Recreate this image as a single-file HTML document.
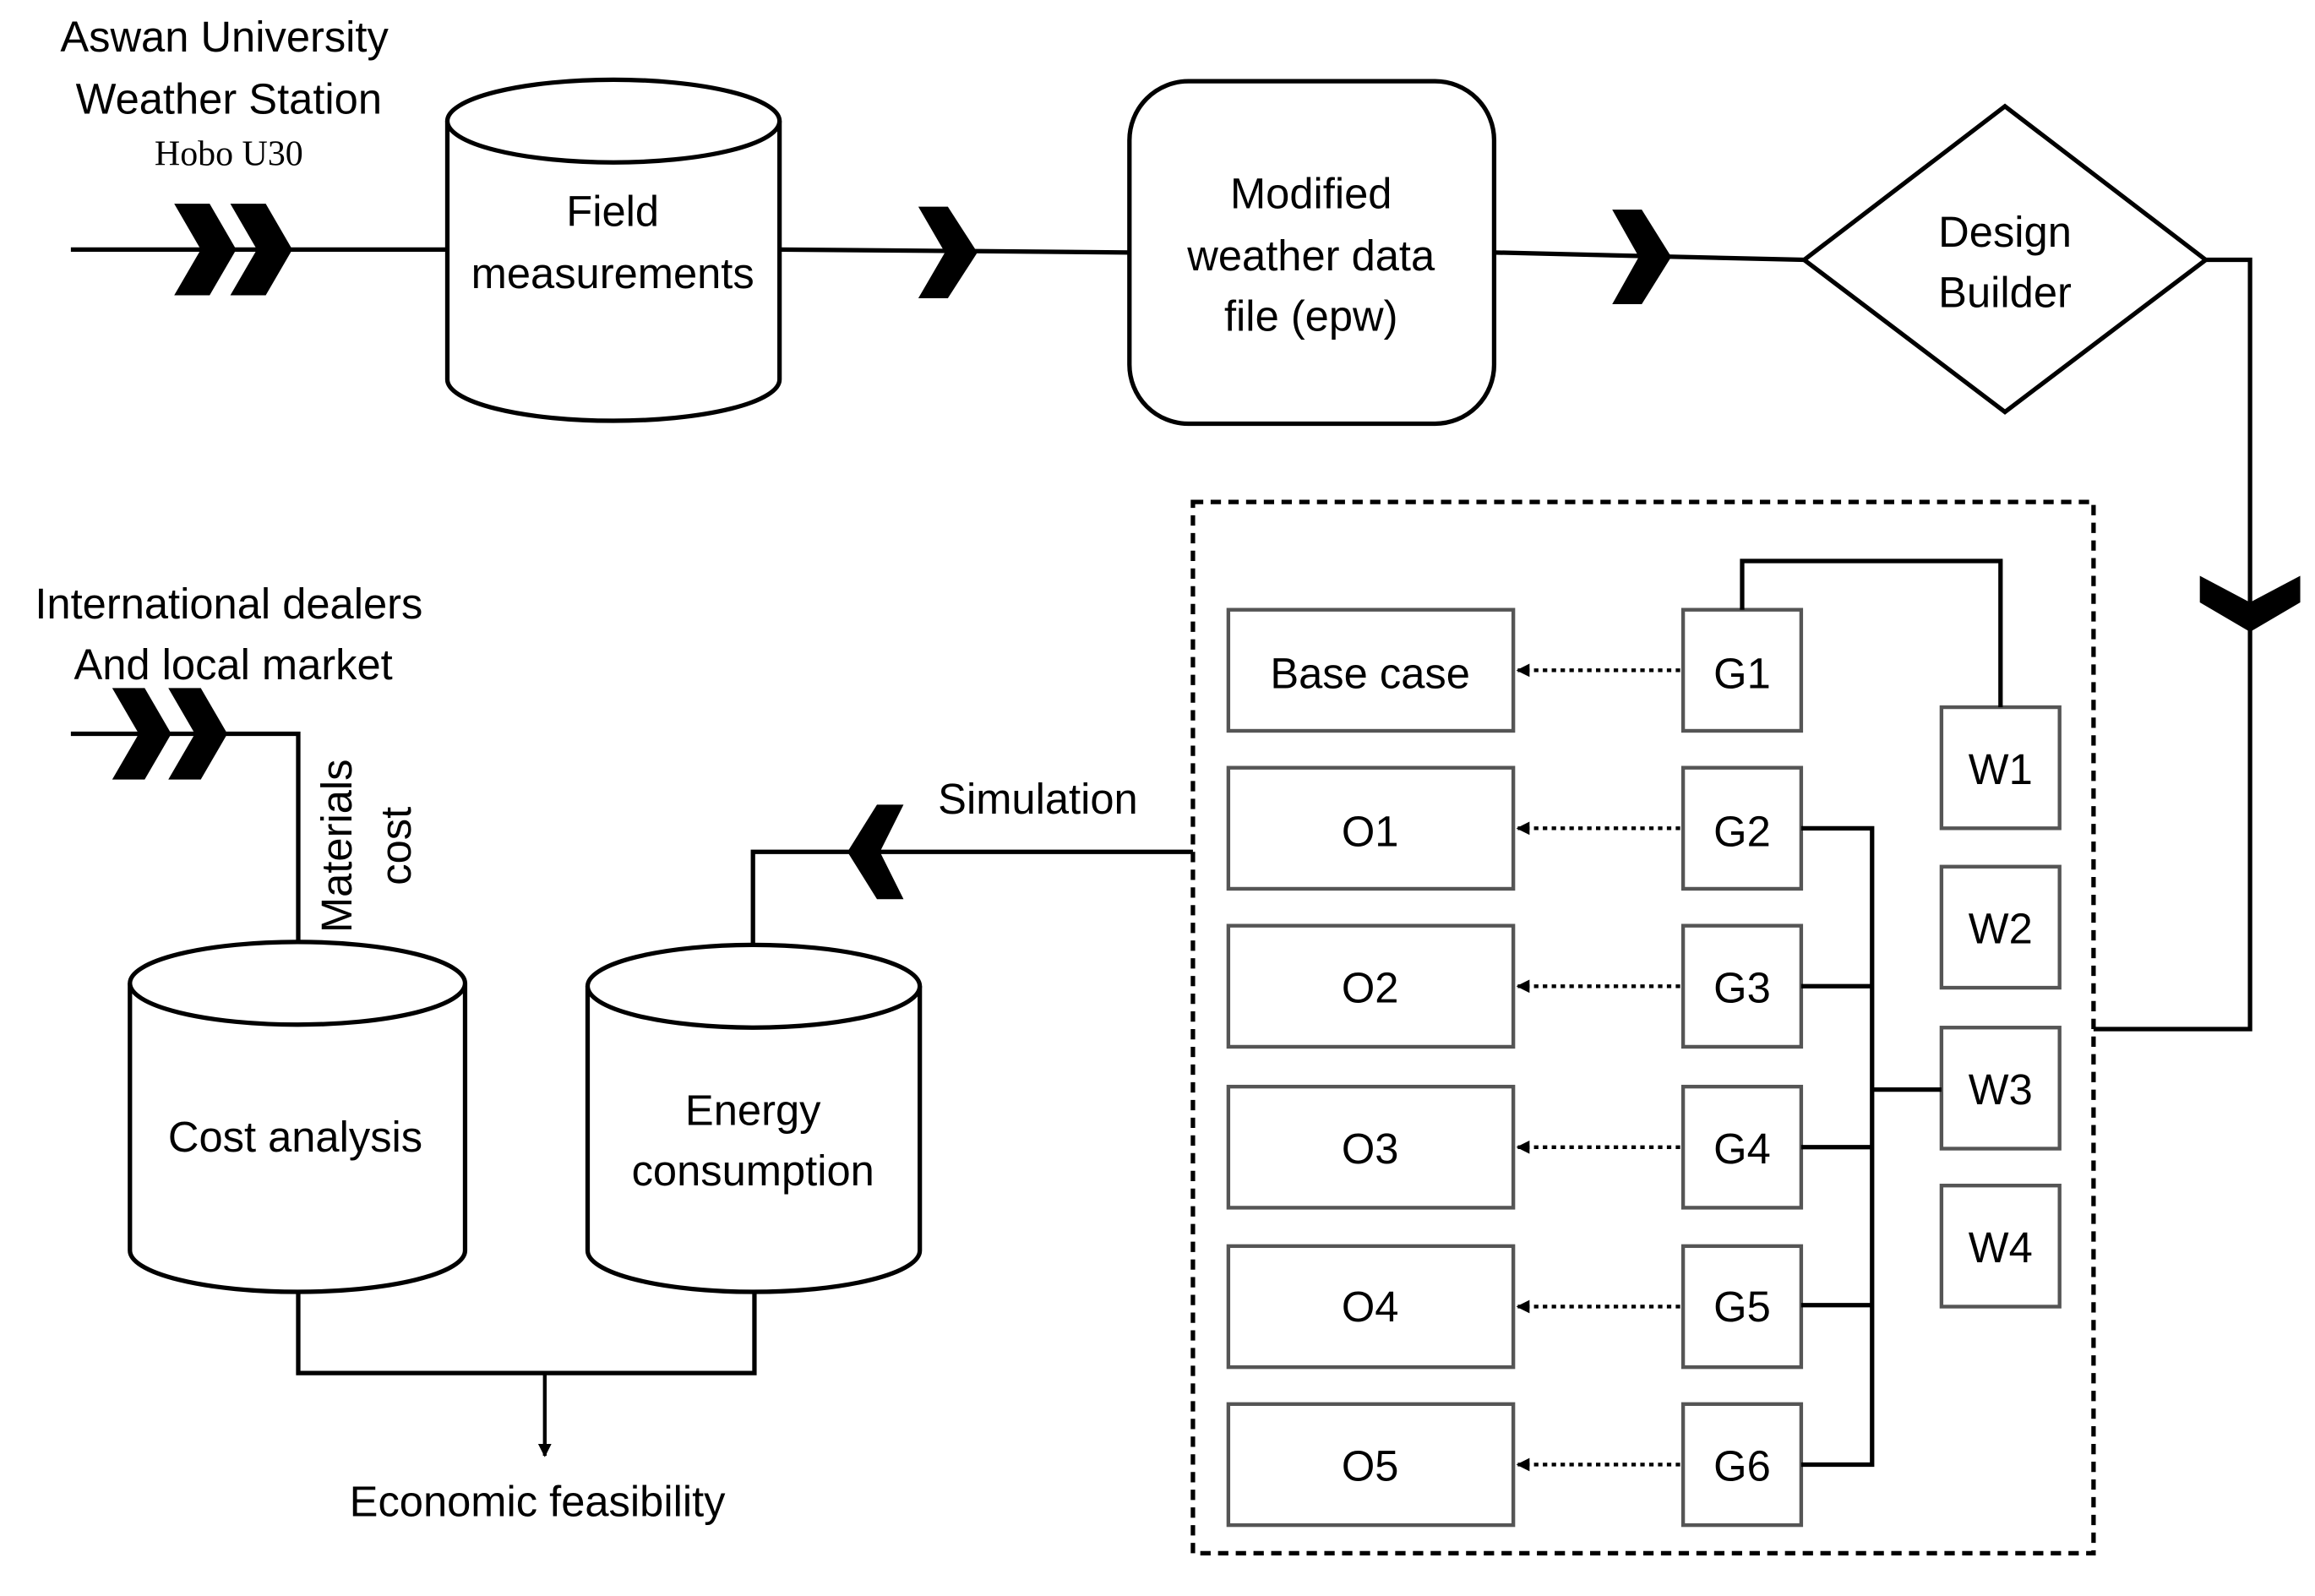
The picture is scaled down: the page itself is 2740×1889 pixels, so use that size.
<!DOCTYPE html>
<html><head><meta charset="utf-8"><style>html,body{margin:0;padding:0;background:#fff}svg{display:block}</style></head>
<body>
<svg width="2740" height="1889" viewBox="0 0 1568 1081" xmlns="http://www.w3.org/2000/svg" font-family="Liberation Sans, sans-serif" font-size="29" fill="none" stroke="#000" stroke-width="3">
<defs>
<marker id="ah" markerWidth="9" markerHeight="9" refX="8" refY="4.5" orient="auto" markerUnits="userSpaceOnUse"><path d="M0,0 L9,4.5 L0,9 z" fill="#000" stroke="none"/></marker>
</defs>
<rect x="0" y="0" width="1568" height="1081" fill="#fff" stroke="none"/>
<!-- lines top -->
<line x1="48" y1="169" x2="303" y2="169"/>
<line x1="528" y1="169" x2="765" y2="171"/>
<line x1="1012" y1="171" x2="1222" y2="176"/>
<polyline points="1494,176 1524,176 1524,697 1418,697"/>
<!-- chevrons -->
<g fill="#000" stroke="none">
<path d="M118,138 L142,138 L160,169 L142,200 L118,200 L136,169 z"/>
<path d="M156,138 L180,138 L198,169 L180,200 L156,200 L174,169 z"/>
<path d="M622,140 L642,140 L662,171 L642,202 L622,202 L640,171 z"/>
<path d="M1092,142 L1112,142 L1132,174 L1112,206 L1092,206 L1110,174 z"/>
<path d="M1490,390 L1490,408 L1524,428 L1558,408 L1558,390 L1524,408 z"/>
<path d="M76,466 L98,466 L116,497 L98,528 L76,528 L94,497 z"/>
<path d="M114,466 L136,466 L154,497 L136,528 L114,528 L132,497 z"/>
<path d="M612,545 L594,545 L574,577 L594,609 L612,609 L596,577 z"/>
</g>
<!-- field cylinder -->
<path d="M303,82 L303,257 A112.5,28 0 0 0 528,257 L528,82" fill="#fff"/>
<ellipse cx="415.5" cy="82" rx="112.5" ry="28" fill="#fff"/>
<rect x="765" y="55" width="247" height="232" rx="40" fill="#fff"/>
<polygon points="1222,176 1358,72 1494,176 1358,279" fill="#fff"/>
<rect x="808" y="340" width="610" height="712" stroke-dasharray="7,5"/>
<g fill="#fff" stroke="#555" stroke-width="2.5">
<rect x="832" y="413" width="193" height="82"/><rect x="832" y="520" width="193" height="82"/><rect x="832" y="627" width="193" height="82"/><rect x="832" y="736" width="193" height="82"/><rect x="832" y="844" width="193" height="82"/><rect x="832" y="951" width="193" height="82"/>
<rect x="1140" y="413" width="80" height="82"/><rect x="1140" y="520" width="80" height="82"/><rect x="1140" y="627" width="80" height="82"/><rect x="1140" y="736" width="80" height="82"/><rect x="1140" y="844" width="80" height="82"/><rect x="1140" y="951" width="80" height="82"/>
<rect x="1315" y="479" width="80" height="82"/><rect x="1315" y="587" width="80" height="82"/><rect x="1315" y="696" width="80" height="82"/><rect x="1315" y="803" width="80" height="82"/>
</g>
<g stroke-dasharray="3,3" stroke-width="2.5" marker-end="url(#ah)">
<line x1="1138" y1="454" x2="1028" y2="454"/><line x1="1138" y1="561" x2="1028" y2="561"/><line x1="1138" y1="668" x2="1028" y2="668"/><line x1="1138" y1="777" x2="1028" y2="777"/><line x1="1138" y1="885" x2="1028" y2="885"/><line x1="1138" y1="992" x2="1028" y2="992"/>
</g>
<polyline points="1180,413 1180,380 1355,380 1355,479"/>
<polyline points="1220,561 1268,561 1268,992 1220,992"/>
<line x1="1220" y1="668" x2="1268" y2="668"/><line x1="1220" y1="777" x2="1268" y2="777"/><line x1="1220" y1="884" x2="1268" y2="884"/>
<line x1="1268" y1="738" x2="1315" y2="738"/>
<polyline points="808,577 510,577 510,640"/>
<polyline points="48,497 202,497 202,638"/>
<path d="M88,666 L88,847 A113.5,28 0 0 0 315,847 L315,666" fill="#fff"/>
<ellipse cx="201.5" cy="666" rx="113.5" ry="28" fill="#fff"/>
<path d="M398,668 L398,847 A112.5,28 0 0 0 623,847 L623,668" fill="#fff"/>
<ellipse cx="510.5" cy="668" rx="112.5" ry="28" fill="#fff"/>
<polyline points="202,875 202,930 511,930 511,875"/>
<line x1="369" y1="930" x2="369" y2="986" stroke-width="2.5" marker-end="url(#ah)"/>
<!-- texts -->
<g fill="#000" stroke="none" text-anchor="middle">
<text x="152" y="35">Aswan University</text>
<text x="155" y="77">Weather Station</text>
<text x="155" y="112" font-family="Liberation Serif, serif" font-size="24">Hobo U30</text>
<text x="155" y="419">International dealers</text>
<text x="158" y="460">And local market</text>
<text x="415" y="153">Field</text>
<text x="415" y="195">measurements</text>
<text x="888" y="141">Modified</text>
<text x="888" y="183">weather data</text>
<text x="888" y="224">file (epw)</text>
<text x="1358" y="167">Design</text>
<text x="1358" y="208">Builder</text>
<text x="703" y="551">Simulation</text>
<text x="510" y="762">Energy</text>
<text x="510" y="803">consumption</text>
<text x="200" y="780">Cost analysis</text>
<text x="364" y="1027">Economic feasibility</text>
<text x="928" y="466">Base case</text>
<text x="928" y="573">O1</text><text x="928" y="679">O2</text><text x="928" y="788">O3</text><text x="928" y="895">O4</text><text x="928" y="1003">O5</text>
<text x="1180" y="466">G1</text><text x="1180" y="573">G2</text><text x="1180" y="679">G3</text><text x="1180" y="788">G4</text><text x="1180" y="895">G5</text><text x="1180" y="1003">G6</text>
<text x="1355" y="531">W1</text><text x="1355" y="639">W2</text><text x="1355" y="748">W3</text><text x="1355" y="855">W4</text>
<text transform="translate(238,573) rotate(-90)">Materials</text>
<text transform="translate(278,573) rotate(-90)">cost</text>
</g>
</svg>
</body></html>
